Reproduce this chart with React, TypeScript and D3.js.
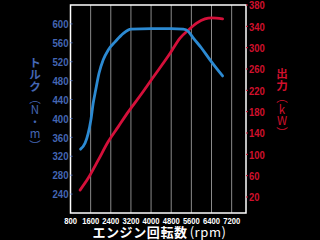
import React from "react";
import * as d3 from "d3";

const rpmTicks = [800, 1600, 2400, 3200, 4000, 4800, 5600, 6400, 7200];
const torqueTicks = [240, 280, 320, 360, 400, 440, 480, 520, 560, 600];
const powerTicks = [20, 60, 100, 140, 180, 220, 260, 300, 340, 380];

const torqueRpm = [1200, 1380, 1500, 1610, 1700, 1800, 1930, 2100, 2300, 2570, 2900, 3200, 4000, 4800, 5280, 5480, 5680, 6000, 6340, 6600, 6840];
const torqueVal = [335, 348, 368, 397, 432, 460, 495, 524, 545, 562, 580, 589, 590, 590, 589, 584, 570, 549, 524, 506, 490];

const powerRpm = [1180, 1500, 1900, 2300, 2700, 3100, 3630, 4000, 4750, 5150, 5480, 5810, 6140, 6400, 6840];
const powerVal = [33, 55, 89, 124, 152, 180, 214, 239, 289, 318, 333, 346, 354, 356, 354];

const leftTitle = ["ト", "ル", "ク", "︵", "N", "・", "m", "︶"];
const rightTitle = ["出", "力", "︵", "k", "W", "︶"];

const BLUE_TEXT = "#4466b4";
const RED_TEXT = "#d0102c";
const BLUE_LINE = "#2c8ad2";
const RED_LINE = "#d4103a";
const SANS = "'Liberation Sans', Arial, sans-serif";
const CJK = "'Noto Sans CJK JP', sans-serif";

export default function App() {
  const L = 70.5, R = 246, T = 5, B = 213;
  const x = d3.scaleLinear().domain([800, 7770]).range([L, R]);
  const yT = d3.scaleLinear().domain([200, 640]).range([B, T]);
  const yP = d3.scaleLinear().domain([-10, 380]).range([B, T]);

  const tData = torqueRpm.map((r, i) => [r, torqueVal[i]] as [number, number]);
  const pData = powerRpm.map((r, i) => [r, powerVal[i]] as [number, number]);
  const tLine = d3.line<[number, number]>().x(d => x(d[0])).y(d => yT(d[1])).curve(d3.curveMonotoneX);
  const pLine = d3.line<[number, number]>().x(d => x(d[0])).y(d => yP(d[1])).curve(d3.curveMonotoneX);

  return (
    <svg width={320} height={240} style={{ position: "absolute", left: 0, top: 0, background: "#000" }}>
      <rect x={0} y={0} width={320} height={240} fill="#000" />
      {rpmTicks.slice(1).map(t => (
        <line key={t} x1={x(t)} x2={x(t)} y1={T} y2={B} stroke="#8a8a8a" strokeWidth={1} />
      ))}
      <rect x={L} y={T} width={R - L} height={B - T} fill="none" stroke="#fff" strokeWidth={1.5} />
      <path d={pLine(pData) || ""} fill="none" stroke={RED_LINE} strokeWidth={2.8} strokeLinecap="round" />
      <path d={tLine(tData) || ""} fill="none" stroke={BLUE_LINE} strokeWidth={2.8} strokeLinecap="round" />
      {torqueTicks.map(t => (
        <g key={t}>
          <line x1={L} x2={L + 2} y1={yT(t)} y2={yT(t)} stroke={BLUE_TEXT} strokeWidth={1} />
          <text transform={`translate(${L - 2},${yT(t)}) scale(0.84,1)`} dy="0.36em" textAnchor="end" fill={BLUE_TEXT}
            fontFamily={SANS} fontWeight="bold" fontSize={11.5}>{t}</text>
        </g>
      ))}
      {powerTicks.map(t => (
        <g key={t}>
          <line x1={R} x2={R + 2} y1={yP(t)} y2={yP(t)} stroke={RED_TEXT} strokeWidth={1} />
          <text transform={`translate(${R + 3},${yP(t) + 0.5}) scale(0.86,1)`} dy="0.36em" textAnchor="start" fill={RED_TEXT}
            fontFamily={SANS} fontWeight="bold" fontSize={11}>{t}</text>
        </g>
      ))}
      {rpmTicks.map(t => (
        <text key={t} transform={`translate(${x(t)},224) scale(0.85,1.1)`} textAnchor="middle" fill="#fff"
          fontFamily={SANS} fontWeight="bold" fontSize={9}>{t}</text>
      ))}
      {leftTitle.map((c, i) => (
        <text key={i} x={35} y={63 + i * 11.8} dy="0.36em" textAnchor="middle" fill={BLUE_TEXT}
          fontFamily={CJK} fontWeight={i < 3 ? "bold" : "normal"} fontSize={11.5}>{c}</text>
      ))}
      {rightTitle.map((c, i) => (
        <text key={i} x={282} y={74 + i * 11.8} dy="0.36em" textAnchor="middle" fill={RED_TEXT}
          fontFamily={CJK} fontWeight={i < 2 ? "bold" : "normal"} fontSize={11.5}>{c}</text>
      ))}
      <text x={159.5} y={237} textAnchor="middle" fill="#fff" fontFamily={CJK} fontSize={13} letterSpacing={0.6}>
        <tspan fontWeight="bold">エンジン回転数</tspan>
        <tspan fontWeight="normal" dx={2}>(rpm)</tspan>
      </text>
    </svg>
  );
}
